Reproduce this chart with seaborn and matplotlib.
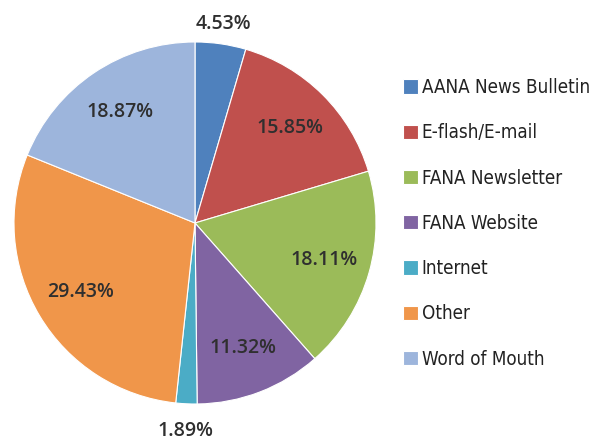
import matplotlib
matplotlib.use("Agg")
import matplotlib.pyplot as plt
import seaborn as sns
import numpy as np

sns.set_theme(style="white")

categories = ["AANA News Bulletin", "E-flash/E-mail", "FANA Newsletter", "FANA Website",
              "Internet", "Other", "Word of Mouth"]
values = [4.53, 15.85, 18.11, 11.32, 1.89, 29.43, 18.87]
labels = ["4.53%", "15.85%", "18.11%", "11.32%", "1.89%", "29.43%", "18.87%"]
colors = ["#4F81BD", "#C0504D", "#9BBB59", "#8064A2", "#4BACC6", "#F0964A", "#9DB5DC"]
label_radius = [1.11, 0.74, 0.74, 0.74, 1.15, 0.74, 0.74]

fig = plt.figure(figsize=(5.9, 4.41), dpi=100)
ax = fig.add_axes([0.0237, 0.0839, 0.6136, 0.8209])
wedges, _ = ax.pie(values, colors=colors, startangle=90, counterclock=False,
                   wedgeprops=dict(linewidth=0.8, edgecolor="white"))
ax.set_xlim(-1.0, 1.0)
ax.set_ylim(-1.0, 1.0)
ax.set_aspect("equal")

for w, lab, r in zip(wedges, labels, label_radius):
    ang = np.deg2rad((w.theta1 + w.theta2) / 2)
    ax.text(r * np.cos(ang), r * np.sin(ang), lab, ha="center", va="center",
            fontsize=14, fontweight="semibold", color="#2f2f2f",
            family=["Open Sans", "DejaVu Sans"], clip_on=False)

leg = fig.legend(wedges, categories, loc="upper left", bbox_to_anchor=(0.670, 0.840),
                 frameon=False, handlelength=0.8, handleheight=0.8, handletextpad=0.2,
                 labelspacing=1.4, borderaxespad=0.0,
                 prop={"family": "DejaVu Sans", "stretch": "condensed", "size": 13.5})
for t in leg.get_texts():
    t.set_color("#222222")

fig.savefig("out.png", dpi=100)
